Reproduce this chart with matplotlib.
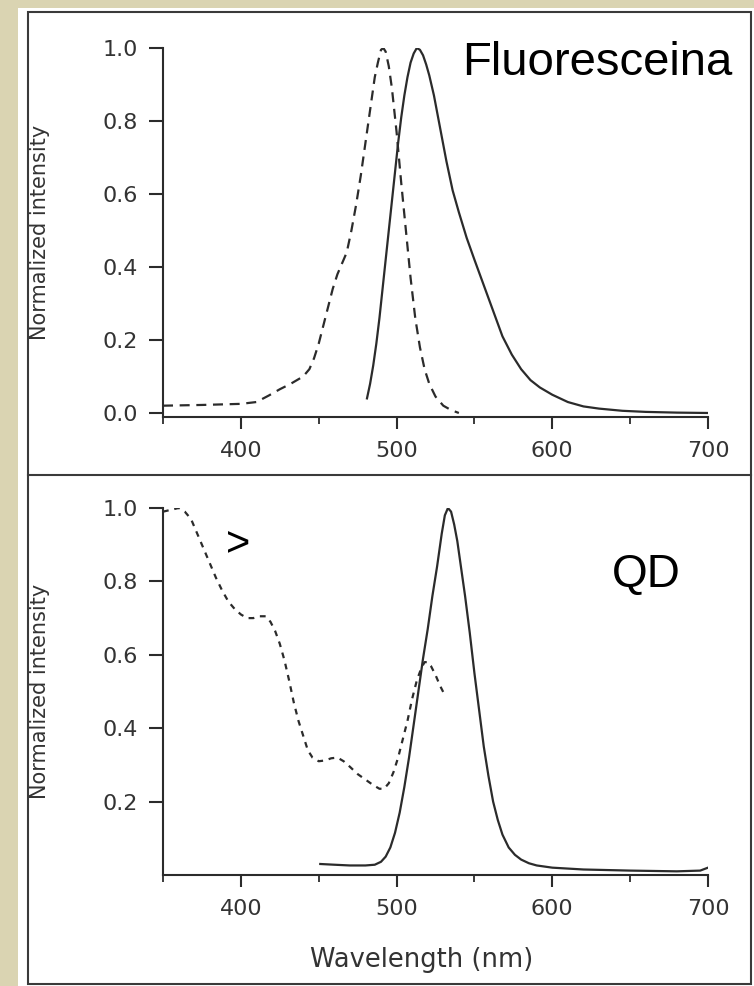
import matplotlib.pyplot as plt
from matplotlib.patches import Rectangle
from matplotlib.lines import Line2D
from matplotlib.ticker import MultipleLocator

# Fluoresceina: absorption (dashed) and emission (solid)
fl_abs_nm = [350, 375, 400, 410, 418, 425, 432, 440, 444, 447, 450, 453, 456, 459, 462, 465,
             468, 471, 474, 477, 480, 483, 486, 488, 490, 491.5, 493, 495, 497, 500, 503,
             506, 509, 512, 515, 518, 521, 525, 530, 535, 540]
fl_abs = [0.02, 0.022, 0.025, 0.03, 0.048, 0.065, 0.08, 0.10, 0.12, 0.15, 0.19, 0.24, 0.29,
          0.34, 0.38, 0.41, 0.44, 0.50, 0.57, 0.65, 0.74, 0.83, 0.92, 0.96, 0.995, 1.0, 0.99,
          0.95, 0.89, 0.77, 0.63, 0.50, 0.37, 0.26, 0.18, 0.12, 0.08, 0.045, 0.02, 0.008, 0.0]
fl_em_nm = [481, 483, 485, 487, 489, 491, 493, 495, 497, 499, 501, 503, 505, 507, 509, 511,
            513, 515, 517, 519, 521, 524, 528, 532, 536, 540, 545, 550, 556, 562, 568, 574,
            580, 586, 592, 600, 610, 620, 630, 645, 660, 680, 700]
fl_em = [0.04, 0.08, 0.13, 0.19, 0.26, 0.34, 0.42, 0.50, 0.58, 0.66, 0.74, 0.81, 0.87, 0.92,
         0.96, 0.985, 1.0, 0.995, 0.98, 0.955, 0.925, 0.87, 0.78, 0.69, 0.61, 0.55, 0.48, 0.42,
         0.35, 0.28, 0.21, 0.16, 0.12, 0.09, 0.07, 0.05, 0.03, 0.018, 0.012, 0.006, 0.003,
         0.001, 0.0]

# QD: absorption (dashed) and emission (solid)
qd_abs_nm = [350, 355, 360, 364, 368, 372, 376, 380, 384, 388, 392, 396, 400, 404, 408, 412,
             416, 419, 422, 425, 428, 431, 434, 437, 440, 443, 446, 450, 454, 458, 462, 466,
             470, 475, 480, 485, 489, 492, 495, 498, 501, 504, 507, 510, 513, 516, 518, 520,
             522, 525, 528, 531]
qd_abs = [0.99, 0.995, 1.0, 0.99, 0.97, 0.93, 0.89, 0.85, 0.81, 0.775, 0.745, 0.725, 0.71,
          0.70, 0.70, 0.705, 0.705, 0.69, 0.665, 0.63, 0.585, 0.53, 0.47, 0.42, 0.38, 0.34,
          0.32, 0.31, 0.312, 0.318, 0.32, 0.31, 0.295, 0.275, 0.26, 0.245, 0.235, 0.235, 0.25,
          0.28, 0.32, 0.37, 0.42, 0.48, 0.53, 0.565, 0.58, 0.58, 0.57, 0.545, 0.515, 0.49]
qd_em_nm = [451, 460, 470, 480, 486, 490, 493, 496, 499, 502, 505, 508, 511, 514, 517, 520,
            523, 526, 529, 531, 533, 535, 537, 539, 541, 544, 547, 550, 553, 556, 559, 562,
            565, 568, 572, 576, 580, 585, 590, 600, 620, 650, 680, 695, 700]
qd_em = [0.03, 0.028, 0.026, 0.026, 0.028, 0.036, 0.05, 0.075, 0.115, 0.17, 0.24, 0.32, 0.41,
         0.50, 0.59, 0.67, 0.76, 0.84, 0.93, 0.98, 1.0, 0.99, 0.955, 0.91, 0.85, 0.76, 0.66,
         0.55, 0.45, 0.35, 0.27, 0.2, 0.15, 0.11, 0.075, 0.055, 0.042, 0.032, 0.026, 0.02,
         0.015, 0.012, 0.01, 0.012, 0.02]

top_yticks = [0.0, 0.2, 0.4, 0.6, 0.8, 1.0]
bot_yticks = [0.2, 0.4, 0.6, 0.8, 1.0]
xticks = [400, 500, 600, 700]

W, H = 754, 986
ink = '#2b2b2b'
tickfont = 'DejaVu Sans'

fig = plt.figure(figsize=(W / 100, H / 100), dpi=100)
fig.patch.set_facecolor('#DAD4B2')
fig.add_artist(Rectangle((18 / W, 0), 1, 1 - 8 / H, transform=fig.transFigure,
                         facecolor='white', edgecolor='none', zorder=-10))
fig.add_artist(Rectangle((28 / W, 2 / H), (751 - 28) / W, (984 - 12) / H, transform=fig.transFigure,
                         facecolor='none', edgecolor='#3a3a3a', lw=1.5, zorder=-5))
fig.add_artist(Line2D([28 / W, 751 / W], [1 - 475 / H, 1 - 475 / H], transform=fig.transFigure,
                      color='#3a3a3a', lw=1.5))

ax1 = fig.add_axes([163 / W, 1 - 417 / H, 545 / W, 369 / H])
ax2 = fig.add_axes([163 / W, 1 - 875 / H, 545 / W, 367 / H])

ax1.plot(fl_abs_nm, fl_abs, color=ink, lw=1.6, dashes=(4.5, 3))
ax1.plot(fl_em_nm, fl_em, color=ink, lw=1.6)
ax2.plot(qd_abs_nm, qd_abs, color=ink, lw=1.6, dashes=(2.6, 2.6))
ax2.plot(qd_em_nm, qd_em, color=ink, lw=1.6)

ax1.set_ylim(-0.011, 1.0)
ax2.set_ylim(0, 1.0)
ax1.set_yticks(top_yticks)
ax1.set_yticklabels(['%.1f' % v for v in top_yticks])
ax2.set_yticks(bot_yticks)
ax2.set_yticklabels(['%.1f' % v for v in bot_yticks])

for ax in (ax1, ax2):
    ax.set_facecolor('none')
    ax.set_xlim(350, 700)
    ax.set_xticks(xticks)
    ax.xaxis.set_minor_locator(MultipleLocator(100, offset=50))
    for s in ('top', 'right'):
        ax.spines[s].set_visible(False)
    for s in ('left', 'bottom'):
        ax.spines[s].set_linewidth(1.5)
        ax.spines[s].set_color(ink)
    ax.tick_params(axis='x', which='major', length=8.5, width=1.5, pad=9, color=ink,
                   labelsize=16, labelcolor='#333333')
    ax.tick_params(axis='x', which='minor', length=5, width=1.3, color=ink)
    ax.tick_params(axis='y', which='major', length=10, width=1.5, pad=8, color=ink,
                   labelsize=16, labelcolor='#333333')
    for lab in ax.get_xticklabels() + ax.get_yticklabels():
        lab.set_fontfamily(tickfont)
    ax.set_ylabel('Normalized intensity', fontsize=15, family=tickfont, color='#333333')
    ax.yaxis.set_label_coords(-0.208, 0.5)

ax2.set_xlabel('Wavelength (nm)', fontsize=18.5, family=tickfont, color='#333333')
ax2.xaxis.set_label_coords(0.475, -0.195)

fig.text(462 / W, 1 - 75 / H, 'Fluoresceina', fontsize=34, family='Liberation Sans',
         color='black', ha='left', va='baseline')
fig.text(612 / W, 1 - 587 / H, 'QD', fontsize=33, family='Liberation Sans',
         color='black', ha='left', va='baseline')
fig.text(226 / W, 1 - 556 / H, '>', fontsize=30, family='Liberation Sans',
         color='black', ha='left', va='baseline')

fig.savefig('out.png', dpi=100, facecolor=fig.get_facecolor())
